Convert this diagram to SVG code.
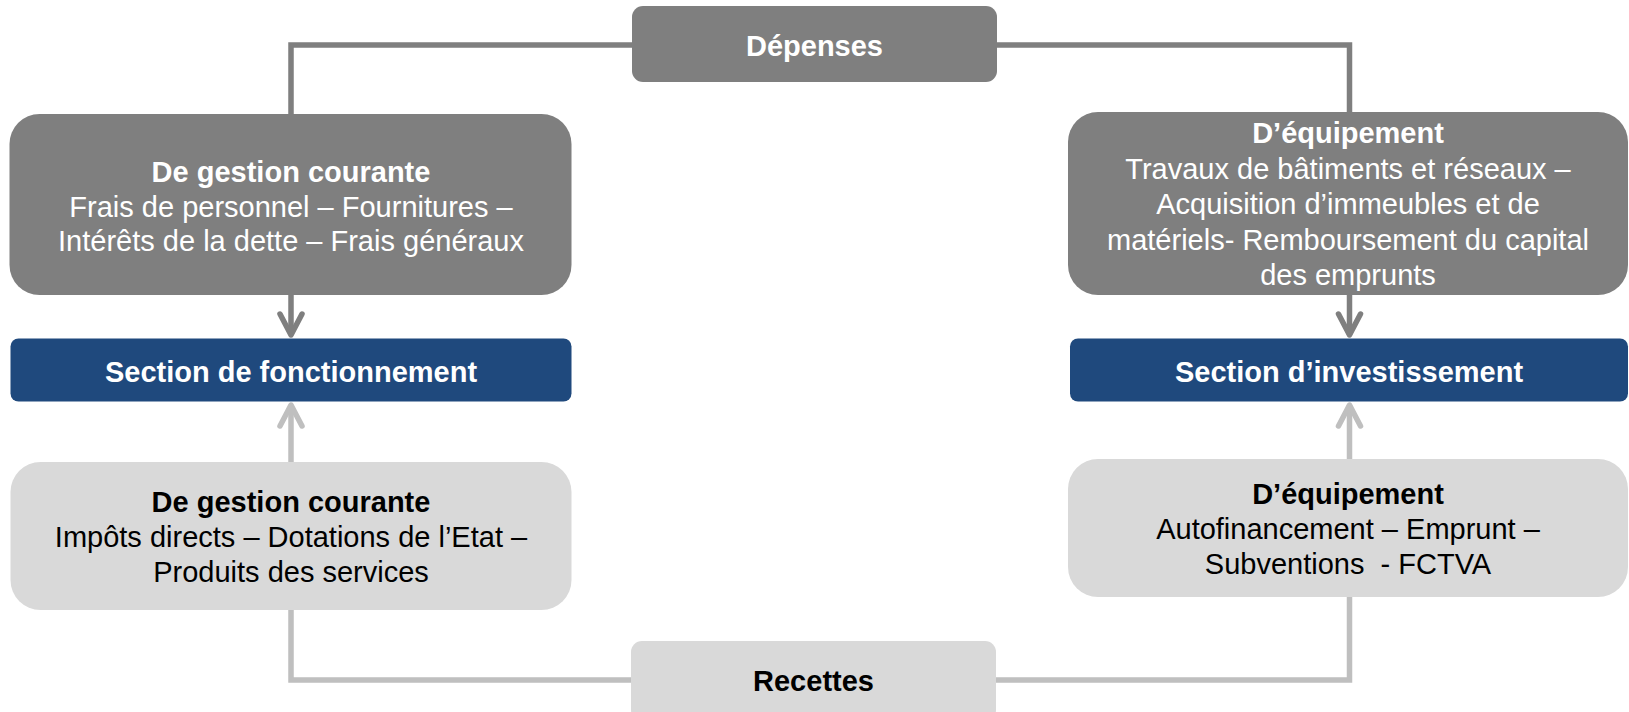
<svg xmlns="http://www.w3.org/2000/svg" width="1629" height="712" viewBox="0 0 1629 712">
<style>
.dark{fill:#7F7F7F}
.light{fill:#D9D9D9}
.navy{fill:#1F497D}
.t{font-family:"Liberation Sans",Arial,sans-serif;font-size:29px;text-anchor:middle}
.b{font-weight:bold}
.w{fill:#FFFFFF}
.k{fill:#000000}
.cd{fill:none;stroke:#7F7F7F;stroke-width:5.5;stroke-linejoin:miter}
.cl{fill:none;stroke:#BFBFBF;stroke-width:5.5;stroke-linejoin:miter}
</style>
<defs>
<marker id="arrD" markerUnits="userSpaceOnUse" markerWidth="40" markerHeight="40" viewBox="-30 -20 40 40" refX="0" refY="0" orient="auto" overflow="visible">
<path d="M-21,-11 L0,0 L-21,11" fill="none" stroke="#7F7F7F" stroke-width="5.5" stroke-linecap="round" stroke-linejoin="round"/>
</marker>
<marker id="arrL" markerUnits="userSpaceOnUse" markerWidth="40" markerHeight="40" viewBox="-30 -20 40 40" refX="0" refY="0" orient="auto" overflow="visible">
<path d="M-21,-11 L0,0 L-21,11" fill="none" stroke="#BFBFBF" stroke-width="5.5" stroke-linecap="round" stroke-linejoin="round"/>
</marker>
</defs>
<g id="connectors">
<path class="cd" d="M291,114 L291,45 L632,45"/>
<path class="cd" d="M997,45 L1349.5,45 L1349.5,112"/>
<path class="cd" d="M291,295 L291,335" marker-end="url(#arrD)"/>
<path class="cd" d="M1349.5,295 L1349.5,335" marker-end="url(#arrD)"/>
<path class="cl" d="M291,610 L291,680 L631,680"/>
<path class="cl" d="M996,680 L1349.5,680 L1349.5,597"/>
<path class="cl" d="M291,462 L291,405" marker-end="url(#arrL)"/>
<path class="cl" d="M1349.5,459 L1349.5,405" marker-end="url(#arrL)"/>
</g>
<g id="depenses">
<rect class="dark" x="632" y="6" width="365" height="76" rx="11"/>
<text class="t b w" x="814.5" y="55.5">Dépenses</text>
</g>
<g id="dep-fonct">
<rect class="dark" x="9.5" y="114" width="562" height="181" rx="30"/>
<text class="t b w" x="291" y="182">De gestion courante</text>
<text class="t w" x="291" y="216.5">Frais de personnel – Fournitures –</text>
<text class="t w" x="291" y="251">Intérêts de la dette – Frais généraux</text>
</g>
<g id="section-fonct">
<rect class="navy" x="10.5" y="338.5" width="561" height="63" rx="8"/>
<text class="t b w" x="291" y="382">Section de fonctionnement</text>
</g>
<g id="rec-fonct">
<rect class="light" x="10.5" y="462" width="561" height="148" rx="30"/>
<text class="t b k" x="291" y="512">De gestion courante</text>
<text class="t k" x="291" y="547">Impôts directs – Dotations de l’Etat –</text>
<text class="t k" x="291" y="582">Produits des services</text>
</g>
<g id="dep-invest">
<rect class="dark" x="1068" y="112" width="560" height="183" rx="30"/>
<text class="t b w" x="1348" y="143">D’équipement</text>
<text class="t w" x="1348" y="179">Travaux de bâtiments et réseaux –</text>
<text class="t w" x="1348" y="214">Acquisition d’immeubles et de</text>
<text class="t w" x="1348" y="250">matériels- Remboursement du capital</text>
<text class="t w" x="1348" y="285">des emprunts</text>
</g>
<g id="section-invest">
<rect class="navy" x="1070" y="338.5" width="558" height="63" rx="8"/>
<text class="t b w" x="1349" y="382">Section d’investissement</text>
</g>
<g id="rec-invest">
<rect class="light" x="1068" y="459" width="560" height="138" rx="30"/>
<text class="t b k" x="1348" y="503.5">D’équipement</text>
<text class="t k" x="1348" y="538.5">Autofinancement – Emprunt –</text>
<text class="t k" x="1348" y="574" xml:space="preserve">Subventions  - FCTVA</text>
</g>
<g id="recettes">
<rect class="light" x="631" y="641" width="365" height="80" rx="11"/>
<text class="t b k" x="813.5" y="691">Recettes</text>
</g>
</svg>
